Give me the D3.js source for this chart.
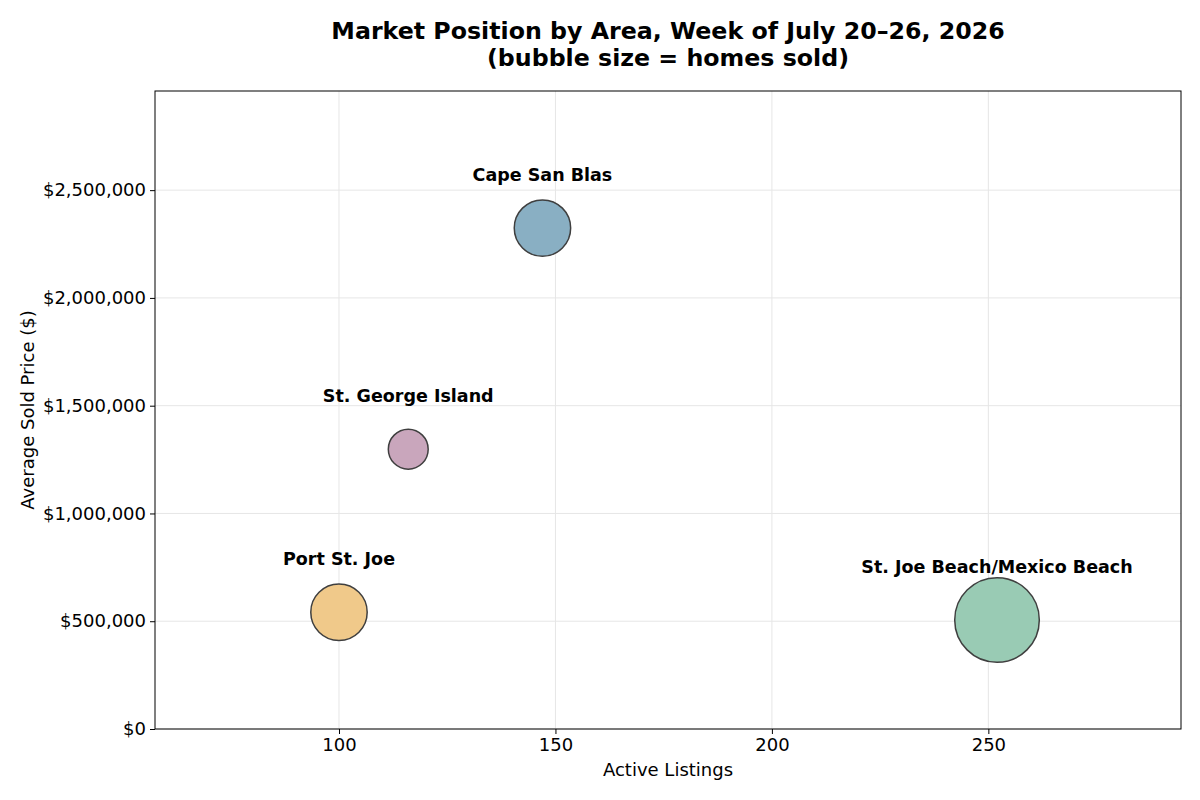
<!DOCTYPE html>
<html>
<head>
<meta charset="utf-8">
<title>Market Position by Area</title>
<script type="text/javascript" src="https://cdnjs.cloudflare.com/ajax/libs/d3/7.8.5/d3.min.js"></script>
<style>
  body { margin: 0; background: #fff; }
  text { font-family: "DejaVu Sans", sans-serif; fill: #000; }
</style>
</head>
<body>
<div id="chart"></div>
<script type="text/javascript">

// chart data
var areas = ["Cape San Blas", "Port St. Joe", "St. George Island", "St. Joe Beach/Mexico Beach"];
var activeListings = [147, 100, 116, 252];
var avgSoldPrice = [2324000, 541700, 1298000, 506000];
var homesSold = [4, 4, 2, 9];
var areaColors = ["#89afc3", "#f0c98a", "#c9a6bc", "#99cbb4"];
var xTicks = [100, 150, 200, 250];
var yTicks = [0, 500000, 1000000, 1500000, 2000000, 2500000];

var width = 1200, height = 800;
var margin = {top: 91, right: 19, bottom: 71, left: 155};
var plotW = width - margin.left - margin.right;
var plotH = height - margin.top - margin.bottom;

var svg = d3.select("#chart")
    .append("svg")
    .attr("width", width)
    .attr("height", height);

var x = d3.scaleLinear().domain([57.5, 294.5]).range([0, plotW]);
var y = d3.scaleLinear().domain([0, 2960000]).range([plotH, 0]);
// bubble area proportional to homes sold
var r = d3.scaleSqrt().domain([0, 1]).range([0, 14.1]);

var g = svg.append("g")
    .attr("transform", "translate(" + margin.left + "," + margin.top + ")");

// grid lines
g.selectAll(".vgrid").data(xTicks).enter()
    .append("line")
    .attr("x1", function(d) { return x(d); }).attr("x2", function(d) { return x(d); })
    .attr("y1", 0).attr("y2", plotH)
    .style("stroke", "#e6e6e6").style("stroke-width", 1);

g.selectAll(".hgrid").data(yTicks).enter()
    .append("line")
    .attr("x1", 0).attr("x2", plotW)
    .attr("y1", function(d) { return y(d); }).attr("y2", function(d) { return y(d); })
    .style("stroke", "#e6e6e6").style("stroke-width", 1);

// axes
var fmt = d3.format("$,.0f");
var xAxis = g.append("g")
    .attr("transform", "translate(0," + plotH + ")")
    .call(d3.axisBottom(x).tickValues(xTicks).tickSize(5).tickPadding(4));
var yAxis = g.append("g")
    .call(d3.axisLeft(y).tickValues(yTicks).tickFormat(fmt).tickSize(5).tickPadding(4));

[xAxis, yAxis].forEach(function(a) {
    a.select(".domain").remove();
    a.selectAll("line").style("stroke", "#000").style("stroke-width", 1);
    a.selectAll("text").style("font-size", "18px").style("font-family", "DejaVu Sans");
});

// plot frame
g.append("rect")
    .attr("x", 0).attr("y", 0)
    .attr("width", plotW).attr("height", plotH)
    .style("fill", "none").style("stroke", "#000").style("stroke-width", 1);

// bubbles
var idx = d3.range(areas.length);
g.selectAll(".bubble").data(idx).enter()
    .append("circle")
    .attr("cx", function(i) { return x(activeListings[i]); })
    .attr("cy", function(i) { return y(avgSoldPrice[i]); })
    .attr("r", function(i) { return r(homesSold[i]); })
    .style("fill", function(i) { return areaColors[i]; })
    .style("stroke", "#3f3f3f")
    .style("stroke-width", 1.5);

// area labels above each bubble
g.selectAll(".label").data(idx).enter()
    .append("text")
    .attr("x", function(i) { return x(activeListings[i]); })
    .attr("y", function(i) { return y(avgSoldPrice[i]) - 47; })
    .attr("text-anchor", "middle")
    .style("font-size", "17.5px")
    .style("font-weight", "bold")
    .text(function(i) { return areas[i]; });

// title
var title = svg.append("text")
    .attr("x", margin.left + plotW / 2)
    .attr("y", 39)
    .attr("text-anchor", "middle")
    .style("font-size", "23.7px")
    .style("font-weight", "bold");
title.append("tspan").attr("x", margin.left + plotW / 2).text("Market Position by Area, Week of July 20\u201326, 2026");
title.append("tspan").attr("x", margin.left + plotW / 2).attr("dy", 27).text("(bubble size = homes sold)");

// axis labels
svg.append("text")
    .attr("x", margin.left + plotW / 2)
    .attr("y", 776)
    .attr("text-anchor", "middle")
    .style("font-size", "18px")
    .text("Active Listings");

svg.append("text")
    .attr("transform", "translate(34," + (margin.top + plotH / 2) + ") rotate(-90)")
    .attr("text-anchor", "middle")
    .style("font-size", "18px")
    .text("Average Sold Price ($)");

</script>
</body>
</html>
